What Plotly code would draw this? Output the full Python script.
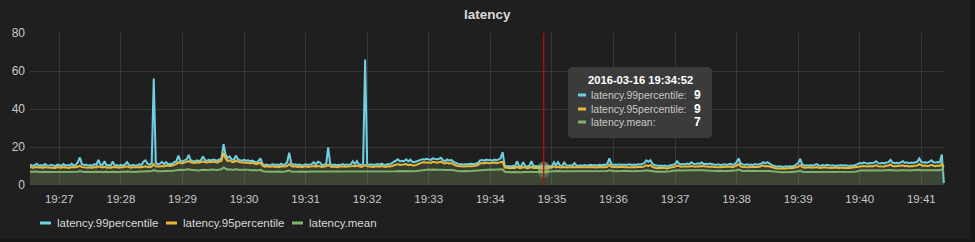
import pandas as pd
import plotly.graph_objects as go

# ---------------- data ----------------
start_time = "2016-03-16 19:26:30"
step = "2s"
series_names = ["latency.99percentile", "latency.95percentile", "latency.mean"]

p99 = [
    10.2, 10.6, 10.1, 10.4, 11.2, 10.2, 10.5, 10.1, 11.0, 10.3, 10.1, 10.6, 10.3, 10.0, 10.7,
    10.4, 10.1, 11.0, 10.2, 10.5, 10.1, 11.2, 10.3, 10.5, 12.0, 14.5, 11.0, 10.4, 10.8, 10.2, 10.5, 10.1, 11.0, 10.5, 13.2, 10.8, 10.4, 12.5, 10.3, 10.5, 10.1, 12.4, 10.2, 10.5, 10.1,
    10.6, 10.2, 10.8, 12.0, 10.5, 10.2, 10.6, 10.1, 10.4, 10.9, 10.5, 12.3, 13.0, 11.2, 10.6, 11.5, 56.0, 11.8, 10.8, 11.2, 12.2, 11.0, 12.0, 10.9, 11.2, 11.0, 12.0, 12.4, 15.5, 12.6,
    12.4, 12.8, 13.5, 15.8, 13.0, 12.6, 12.4, 13.0, 12.5, 13.2, 15.0, 13.0, 12.8, 13.2, 12.9, 13.4, 13.0, 12.8, 13.5, 14.0, 21.5, 16.0, 14.2, 15.0, 13.4, 13.2, 15.5, 13.6, 13.0, 12.8,
    13.2, 12.8, 13.0, 12.5, 12.8, 12.4, 11.8, 12.6, 14.0, 11.0, 10.5, 10.8, 10.4, 10.6, 11.0, 10.5, 10.8, 10.4, 11.2, 10.6, 10.8, 12.0, 17.0, 11.5, 10.6, 10.9, 10.5, 10.8, 10.4, 10.6,
    10.9, 10.5, 10.8, 11.0, 12.0, 10.6, 12.2, 11.8, 10.5, 10.8, 11.0, 19.8, 10.9, 10.5, 10.8, 10.4, 10.7, 10.5, 11.0, 10.6, 10.8, 10.5, 11.0, 12.4, 11.0, 12.6, 10.8, 10.5, 11.0, 66.0,
    11.0, 10.6, 10.9, 10.5, 10.8, 11.0, 10.6, 11.2, 10.8, 10.5, 11.0, 10.8, 11.5, 12.2, 12.6, 13.5, 12.4, 12.8, 12.5, 13.5, 12.4, 13.3, 12.2, 12.0, 12.4, 12.6, 13.2, 13.6, 13.4, 13.8,
    13.5, 13.2, 14.0, 13.6, 13.4, 13.8, 14.3, 13.0, 12.6, 13.4, 12.8, 13.2, 12.2, 11.8, 11.2, 10.8, 11.0, 10.7, 11.0, 10.8, 11.2, 10.9, 11.0, 11.3, 11.6, 13.0, 13.2, 12.8, 13.4, 13.0,
    13.2, 12.8, 13.4, 13.0, 13.3, 14.0, 17.3, 10.2, 9.8, 10.0, 9.7, 10.1, 9.8, 12.5, 10.0, 9.8, 12.0, 10.0, 9.7, 10.1, 12.5, 9.9, 10.0, 9.7, 9.8, 10.0, 9.4, 9.8, 10.0, 10.2,
    10.0, 12.0, 10.4, 12.0, 10.2, 10.0, 11.8, 10.3, 10.1, 10.4, 10.2, 11.5, 10.3, 10.0, 10.4, 10.2, 10.5, 10.1, 10.4, 10.6, 10.3, 10.5, 10.2, 10.6, 10.4, 10.7, 10.5, 11.2, 14.0, 11.0,
    10.6, 10.8, 10.5, 10.9, 10.6, 10.8, 10.5, 10.7, 10.9, 10.6, 10.8, 10.5, 11.0, 10.7, 10.9, 11.5, 13.0, 12.2, 13.0, 11.2, 10.5, 10.1, 10.0, 10.3, 10.0, 10.2, 9.9, 10.1, 10.4, 10.8,
    11.0, 12.5, 11.2, 10.8, 11.1, 10.9, 11.3, 11.0, 12.0, 11.2, 10.9, 11.4, 11.1, 11.8, 11.0, 11.2, 10.9, 11.3, 11.0, 10.8, 10.6, 10.9, 10.5, 10.7, 10.9, 10.6, 10.8, 11.2, 10.7, 10.9,
    12.0, 14.0, 11.2, 10.8, 10.6, 10.9, 10.5, 10.8, 10.6, 11.0, 10.7, 10.9, 11.2, 12.0, 11.4, 12.0, 11.2, 10.6, 10.2, 9.8, 9.6, 9.9, 9.7, 9.5, 9.8, 9.6, 9.9, 9.7, 10.0, 10.8,
    11.5, 13.7, 10.8, 10.2, 10.4, 10.1, 10.5, 10.2, 10.4, 11.0, 10.3, 10.1, 10.5, 10.2, 10.6, 10.3, 10.1, 10.4, 10.0, 10.3, 10.2, 10.5, 10.1, 10.4, 10.2, 10.0, 10.3, 10.1, 10.5, 11.2,
    11.6, 11.3, 11.8, 11.5, 11.2, 11.6, 11.4, 11.8, 12.5, 11.5, 11.3, 11.7, 11.4, 11.8, 12.0, 13.2, 11.8, 11.5, 11.7, 11.4, 11.8, 12.5, 11.6, 11.9, 11.5, 11.8, 11.6, 12.0, 12.2, 14.0,
    12.2, 11.8, 12.0, 11.7, 12.2, 13.0, 12.0, 11.8, 12.1, 11.9, 16.0, 1.0,
]

p95 = [
    9.2, 9.4, 9.1, 9.3, 9.5, 9.2, 9.3, 9.0, 9.4, 9.2, 9.1, 9.3, 9.2, 9.0, 9.4,
    9.3, 9.1, 9.4, 9.2, 9.3, 9.0, 9.5, 9.2, 9.3, 9.6, 10.2, 9.4, 9.2, 9.3, 9.1, 9.3, 9.0, 9.4, 9.2, 9.8, 9.4, 9.2, 9.6, 9.1, 9.3, 9.0, 9.5, 9.2, 9.3, 9.1,
    9.4, 9.2, 9.4, 9.8, 9.3, 9.1, 9.4, 9.2, 9.3, 9.5, 9.3, 9.6, 9.9, 9.5, 9.4, 9.7, 11.0, 9.8, 9.6, 9.7, 10.0, 9.8, 10.2, 9.9, 10.0, 10.2, 10.6, 11.0, 12.0, 11.4,
    11.4, 11.8, 12.0, 12.6, 12.0, 11.8, 11.6, 12.0, 11.7, 12.1, 12.4, 12.0, 11.8, 12.2, 12.0, 12.3, 12.0, 11.8, 12.4, 12.8, 17.0, 14.0, 12.6, 13.0, 12.2, 12.0, 12.8, 12.3, 11.9, 11.8,
    12.0, 11.6, 11.8, 11.4, 11.7, 11.3, 11.0, 11.4, 11.6, 10.2, 9.6, 9.8, 9.5, 9.6, 9.8, 9.5, 9.7, 9.4, 9.8, 9.6, 9.7, 10.0, 11.0, 9.9, 9.6, 9.8, 9.5, 9.7, 9.4, 9.6,
    9.8, 9.5, 9.7, 9.8, 10.0, 9.6, 10.0, 9.9, 9.5, 9.7, 9.8, 10.6, 9.8, 9.5, 9.7, 9.4, 9.6, 9.5, 9.8, 9.6, 9.7, 9.5, 9.8, 10.1, 9.8, 10.2, 9.7, 9.5, 9.8, 10.4,
    9.8, 9.6, 9.8, 9.5, 9.7, 9.9, 9.6, 10.0, 9.7, 9.5, 9.8, 9.7, 10.0, 10.4, 10.6, 11.0, 10.5, 10.7, 10.5, 11.0, 10.4, 10.8, 10.4, 10.3, 10.6, 11.0, 11.6, 12.0, 11.8, 12.0,
    11.8, 11.6, 12.2, 12.0, 11.7, 12.0, 12.3, 11.6, 11.3, 11.8, 11.2, 11.5, 10.8, 10.4, 10.0, 9.8, 10.0, 9.7, 9.9, 9.8, 10.0, 9.9, 10.0, 10.2, 10.5, 11.4, 11.6, 11.3, 11.8, 11.5,
    11.6, 11.4, 11.8, 11.5, 11.7, 12.0, 12.3, 9.2, 8.9, 9.0, 8.8, 9.1, 8.9, 9.6, 9.0, 8.9, 9.4, 9.0, 8.8, 9.1, 9.5, 8.9, 9.0, 8.8, 8.9, 9.0, 8.8, 8.9, 9.0, 9.2,
    9.2, 9.8, 9.3, 9.6, 9.2, 9.3, 9.5, 9.2, 9.3, 9.4, 9.2, 9.5, 9.3, 9.2, 9.4, 9.3, 9.4, 9.2, 9.3, 9.5, 9.3, 9.4, 9.2, 9.5, 9.3, 9.4, 9.3, 9.6, 10.6, 9.6,
    9.4, 9.5, 9.3, 9.6, 9.4, 9.5, 9.3, 9.4, 9.6, 9.4, 9.5, 9.3, 9.6, 9.4, 9.5, 9.8, 10.4, 10.0, 10.5, 9.6, 9.0, 8.8, 8.9, 9.0, 8.8, 8.9, 8.7, 8.9, 9.1, 9.4,
    9.7, 10.2, 9.8, 9.6, 9.8, 9.7, 9.9, 9.7, 10.0, 9.8, 9.6, 9.9, 9.7, 10.0, 9.7, 9.8, 9.6, 9.8, 9.7, 9.5, 9.4, 9.6, 9.3, 9.5, 9.6, 9.4, 9.5, 9.7, 9.4, 9.6,
    10.2, 11.0, 9.8, 9.5, 9.4, 9.6, 9.3, 9.5, 9.4, 9.6, 9.5, 9.6, 9.8, 10.2, 9.8, 10.0, 9.7, 9.3, 9.0, 8.8, 8.7, 8.9, 8.7, 8.6, 8.8, 8.7, 8.9, 8.8, 9.0, 9.4,
    9.6, 10.5, 9.4, 9.1, 9.2, 9.0, 9.3, 9.1, 9.2, 9.4, 9.1, 9.0, 9.3, 9.1, 9.2, 9.0, 8.9, 9.1, 8.9, 9.1, 9.0, 9.2, 8.9, 9.1, 9.0, 8.9, 9.1, 9.0, 9.2, 9.6,
    9.9, 9.8, 10.0, 9.9, 9.7, 10.0, 9.8, 10.1, 10.4, 9.9, 9.8, 10.0, 9.8, 10.1, 10.2, 10.8, 10.0, 9.9, 10.0, 9.8, 10.1, 10.4, 9.9, 10.1, 9.8, 10.0, 9.9, 10.2, 10.3, 11.0,
    10.3, 10.0, 10.2, 9.9, 10.2, 10.6, 10.1, 9.9, 10.2, 10.0, 11.0, 9.5,
]

mean = [
    6.9, 7.0, 6.9, 7.0, 7.1, 6.9, 7.0, 6.9, 7.0, 6.9, 6.9, 7.0, 6.9, 6.9, 7.0,
    7.0, 6.9, 7.0, 6.9, 7.0, 6.9, 7.0, 6.9, 7.0, 7.0, 7.3, 7.0, 6.9, 7.0, 6.9, 7.0, 6.9, 7.0, 6.9, 7.1, 7.0, 6.9, 7.0, 6.9, 7.0, 6.9, 7.0, 6.9, 7.0, 6.9,
    7.0, 6.9, 7.0, 7.1, 7.0, 6.9, 7.0, 6.9, 7.0, 7.1, 7.1, 7.2, 7.3, 7.2, 7.2, 7.3, 7.8, 7.3, 7.2, 7.3, 7.3, 7.2, 7.4, 7.3, 7.4, 7.5, 7.6, 7.8, 8.2, 8.0,
    7.9, 8.0, 8.1, 8.3, 8.0, 7.9, 8.0, 7.8, 7.6, 7.9, 8.1, 8.0, 7.9, 8.1, 8.0, 8.2, 8.0, 7.9, 8.2, 8.3, 9.2, 8.6, 8.1, 8.3, 8.0, 7.9, 8.4, 8.1, 7.9, 8.0,
    8.1, 7.9, 8.0, 7.8, 8.0, 7.9, 7.7, 7.8, 8.0, 7.4, 7.1, 7.0, 7.1, 7.0, 7.1, 7.0, 7.1, 7.0, 7.1, 7.0, 7.1, 7.2, 7.6, 7.1, 7.0, 7.1, 7.0, 7.1, 7.0, 7.1,
    7.1, 7.0, 7.1, 7.1, 7.2, 7.0, 7.2, 7.1, 7.0, 7.1, 7.1, 7.3, 7.1, 7.0, 7.1, 7.0, 7.1, 7.0, 7.1, 7.0, 7.1, 7.0, 7.1, 7.2, 7.1, 7.2, 7.1, 7.0, 7.1, 7.3,
    7.1, 7.0, 7.1, 7.0, 7.1, 7.1, 7.0, 7.1, 7.1, 7.0, 7.1, 7.1, 7.2, 7.3, 7.3, 7.4, 7.3, 7.4, 7.3, 7.4, 7.3, 7.4, 7.3, 7.3, 7.4, 7.5, 7.8, 8.0, 8.0, 8.1,
    8.1, 8.0, 8.2, 8.1, 8.0, 8.1, 8.2, 8.0, 7.9, 8.1, 7.9, 8.0, 7.7, 7.5, 7.4, 7.3, 7.4, 7.3, 7.4, 7.3, 7.4, 7.3, 7.4, 7.4, 7.5, 7.9, 8.0, 7.9, 8.1, 8.0,
    8.1, 8.0, 8.1, 8.0, 8.1, 8.2, 8.3, 7.0, 6.8, 6.8, 6.7, 6.8, 6.7, 6.9, 6.8, 6.7, 6.8, 6.8, 6.7, 6.8, 6.9, 6.7, 6.8, 6.7, 6.8, 6.8, 6.9, 6.8, 6.9, 7.1,
    7.2, 7.4, 7.3, 7.4, 7.3, 7.3, 7.4, 7.3, 7.3, 7.4, 7.3, 7.4, 7.3, 7.3, 7.4, 7.3, 7.4, 7.3, 7.3, 7.4, 7.3, 7.4, 7.3, 7.4, 7.3, 7.4, 7.3, 7.4, 7.8, 7.4,
    7.4, 7.3, 7.4, 7.4, 7.3, 7.4, 7.4, 7.3, 7.4, 7.4, 7.3, 7.4, 7.4, 7.3, 7.4, 7.5, 7.8, 7.6, 7.7, 7.4, 7.1, 7.0, 7.1, 7.0, 7.1, 7.0, 7.1, 7.0, 7.2, 7.5,
    7.7, 7.9, 7.7, 7.6, 7.7, 7.7, 7.8, 7.7, 7.8, 7.7, 7.6, 7.7, 7.7, 7.8, 7.7, 7.6, 7.7, 7.6, 7.5, 7.4, 7.4, 7.5, 7.4, 7.4, 7.5, 7.4, 7.4, 7.5, 7.4, 7.4,
    7.8, 8.1, 7.6, 7.4, 7.4, 7.5, 7.4, 7.4, 7.5, 7.4, 7.4, 7.5, 7.5, 7.6, 7.5, 7.6, 7.4, 7.2, 7.0, 6.9, 6.8, 6.8, 6.7, 6.8, 6.8, 6.7, 6.8, 6.8, 6.9, 7.1,
    7.2, 7.6, 7.0, 6.9, 6.9, 6.8, 6.9, 6.9, 6.8, 6.9, 6.9, 6.8, 6.9, 6.8, 6.9, 6.8, 6.8, 6.9, 6.8, 6.9, 6.8, 6.9, 6.8, 6.9, 6.9, 6.8, 6.9, 6.9, 7.0, 7.3,
    7.6, 7.7, 7.6, 7.7, 7.6, 7.7, 7.6, 7.7, 7.8, 7.7, 7.6, 7.7, 7.6, 7.7, 7.7, 7.9, 7.7, 7.6, 7.7, 7.6, 7.7, 7.8, 7.7, 7.7, 7.6, 7.7, 7.7, 7.8, 7.8, 8.0,
    7.8, 7.7, 7.8, 7.7, 7.8, 7.9, 7.7, 7.7, 7.8, 7.7, 8.2, 6.5,
]

hover_time = "2016-03-16 19:34:52"
x_range = ["2016-03-16 19:26:31.4", "2016-03-16 19:41:23.1"]
y_ticks = [0, 20, 40, 60, 80]
title = "latency"

# ---------------- style ----------------
W, H = 975, 242
ML, MR, MT, MB = 30, 30, 33, 57
PW, PH = W - ML - MR, H - MT - MB
colors = ["#6ED0E0", "#EAB839", "#7EB26D"]
fills = ["rgba(110,208,224,0.09)", "rgba(234,184,57,0.09)", "rgba(126,178,109,0.09)"]
FONT = "Liberation Sans, Arial, sans-serif"
PANEL = "#1f1f1f"


def px(X):
    return (X - ML) / PW


def py(Y):
    return (H - MB - Y) / PH


n = min(len(p99), len(p95), len(mean))
times = pd.date_range(start_time, periods=n, freq=step)
data = [p99[:n], p95[:n], mean[:n]]

fig = go.Figure()
for name, vals, c, f in zip(series_names, data, colors, fills):
    fig.add_trace(go.Scatter(
        x=times, y=vals, name=name, mode="lines",
        line=dict(color=c, width=2), fill="tozeroy", fillcolor=f,
        showlegend=False, hoverinfo="skip",
    ))

# hovered point markers
hidx = times.get_loc(pd.Timestamp(hover_time))
for vals, c in zip(data, colors):
    fig.add_trace(go.Scatter(
        x=[times[hidx]], y=[vals[hidx]], mode="markers",
        marker=dict(color=c, size=12, opacity=0.35, line=dict(width=0)),
        showlegend=False, hoverinfo="skip",
    ))

shapes = []
annotations = []

# crosshair
shapes.append(dict(type="line", xref="x", yref="paper", x0=times[hidx], x1=times[hidx],
                   y0=0, y1=1, line=dict(color="#b01010", width=1.3), layer="above"))

# title
annotations.append(dict(text="<b>%s</b>" % title, x=0.5 * (px(0) + px(W)), y=py(15),
                        xref="paper", yref="paper", showarrow=False,
                        font=dict(family=FONT, size=13.5, color="#d8d9da"),
                        xanchor="center", yanchor="middle"))


# tooltip box with rounded corners
def rounded(x0, y0, x1, y1, r):
    pts = [
        ("M", px(x0 + r), py(y0)),
        ("L", px(x1 - r), py(y0)),
        ("Q", px(x1), py(y0), px(x1), py(y0 + r)),
        ("L", px(x1), py(y1 - r)),
        ("Q", px(x1), py(y1), px(x1 - r), py(y1)),
        ("L", px(x0 + r), py(y1)),
        ("Q", px(x0), py(y1), px(x0), py(y1 - r)),
        ("L", px(x0), py(y0 + r)),
        ("Q", px(x0), py(y0), px(x0 + r), py(y0)),
    ]
    s = ""
    for p in pts:
        cmd = p[0]
        coords = p[1:]
        s += cmd + " " + " ".join("%.5f,%.5f" % (coords[i], coords[i + 1]) for i in range(0, len(coords), 2)) + " "
    return s + "Z"


shapes.append(dict(type="path", xref="paper", yref="paper",
                   path=rounded(568, 67, 712, 138, 5),
                   fillcolor="rgba(60,60,60,0.97)", line=dict(width=0), layer="above"))
annotations.append(dict(text="<b>%s</b>" % hover_time, x=px(640), y=py(80),
                        xref="paper", yref="paper", showarrow=False,
                        font=dict(family=FONT, size=11.2, color="#ffffff"),
                        xanchor="center", yanchor="middle"))
row_y = [95, 109, 122]
for name, vals, c, ry in zip(series_names, data, colors, row_y):
    shapes.append(dict(type="line", xref="paper", yref="paper",
                       x0=px(578), x1=px(586), y0=py(ry), y1=py(ry),
                       line=dict(color=c, width=3), layer="above"))
    annotations.append(dict(text=name + ":", x=px(589), y=py(ry), xref="paper", yref="paper",
                            showarrow=False, xanchor="left", yanchor="middle",
                            font=dict(family=FONT, size=10.5, color="#c8c8c8")))
    annotations.append(dict(text="<b>%.0f</b>" % vals[hidx], x=px(703), y=py(ry),
                            xref="paper", yref="paper", showarrow=False,
                            xanchor="right", yanchor="middle",
                            font=dict(family=FONT, size=12, color="#ffffff")))

# legend
leg_y = 223
leg_x = [40, 166, 292]
for name, c, lx in zip(series_names, colors, leg_x):
    shapes.append(dict(type="line", xref="paper", yref="paper",
                       x0=px(lx), x1=px(lx + 11), y0=py(leg_y), y1=py(leg_y),
                       line=dict(color=c, width=3)))
    annotations.append(dict(text=name, x=px(lx + 15), y=py(leg_y), xref="paper", yref="paper",
                            showarrow=False, xanchor="left", yanchor="middle",
                            font=dict(family=FONT, size=11.5, color="#d8d9da")))

# outer dark frame strips (page background around the panel)
shapes.append(dict(type="rect", xref="paper", yref="paper", x0=px(970), x1=px(W + 5),
                   y0=py(H + 5), y1=py(-5), fillcolor="#161616", line=dict(width=0)))
shapes.append(dict(type="rect", xref="paper", yref="paper", x0=px(-5), x1=px(W + 5),
                   y0=py(H + 5), y1=py(239), fillcolor="#161616", line=dict(width=0)))

fig.update_layout(
    width=W, height=H,
    margin=dict(l=ML, r=MR, t=MT, b=MB),
    paper_bgcolor=PANEL, plot_bgcolor=PANEL,
    showlegend=False,
    shapes=shapes, annotations=annotations,
    xaxis=dict(type="date", range=x_range, dtick=60000, tick0="2016-03-16 19:27:00",
               tickformat="%H:%M", showgrid=True, gridcolor="#383838", gridwidth=1,
               zeroline=False, showline=False, ticks="", ticklabelstandoff=5,
               tickfont=dict(family=FONT, size=11.5, color="#c8c8c8")),
    yaxis=dict(range=[0, 80], tickvals=y_ticks, showgrid=True, gridcolor="#383838",
               gridwidth=1, zeroline=False, showline=False, ticks="", ticklabelstandoff=4,
               tickfont=dict(family=FONT, size=12, color="#c8c8c8")),
    hovermode=False,
)

fig.write_html("out.html")
